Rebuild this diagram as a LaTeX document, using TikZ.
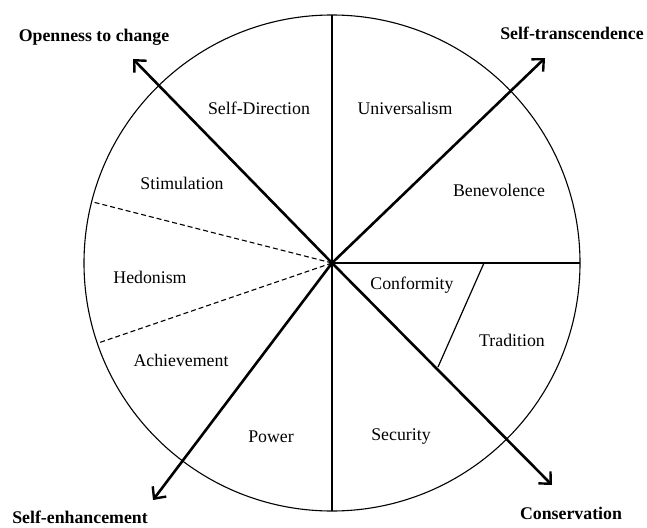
\documentclass[tikz,border=0pt]{standalone}
\usepackage{fontspec}
\setmainfont{Liberation Serif}
\usetikzlibrary{arrows.meta}
\begin{document}
\begin{tikzpicture}[x=1pt,y=-1pt,
  rim/.style={line width=1.1pt},
  divider/.style={line width=1.2pt},
  softdiv/.style={line width=1.1pt, dash pattern=on 5pt off 3pt},
  axis/.style={line width=2.6pt, -{Straight Barb[length=9pt,width=17pt,line width=2.4pt]}},
  value/.style={font=\fontsize{17.8}{20}\selectfont, inner sep=0pt},
  pole/.style={font=\bfseries\fontsize{17.8}{20}\selectfont, inner sep=0pt}]
\useasboundingbox (0,0) rectangle (647,527);

% centre of the circumplex and points on its rim
\coordinate (c) at (332,263);
\coordinate (top) at (332,15);
\coordinate (bottom) at (332,511);
\coordinate (right) at (580,263);
\coordinate (stimEnd) at (91.7,201.7);
\coordinate (hedEnd) at (97.4,343.3);
\coordinate (tradTop) at (484,263);
\coordinate (tradBot) at (438,367);

% arrow tips of the four higher-order dimensions
\coordinate (nw) at (133,59);
\coordinate (ne) at (545,58);
\coordinate (sw) at (153,500);
\coordinate (se) at (552,485);

\draw[rim] (c) circle[radius=248pt];

% sector boundaries
\draw[divider] (top) -- (bottom);
\draw[divider] (c) -- (right);
\draw[divider] (tradTop) -- (tradBot);
\draw[softdiv] (c) -- (stimEnd);
\draw[softdiv] (c) -- (hedEnd);

% dimension axes
\draw[axis] (c) -- (nw);
\draw[axis] (c) -- (ne);
\draw[axis] (c) -- (sw);
\draw[axis] (c) -- (se);

% value types
\node[value] (selfdir) at (259,108) {Self-Direction};
\node[value] (univ) at (405,108) {Universalism};
\node[value] (stim) at (182,183) {Stimulation};
\node[value] (benev) at (499,190) {Benevolence};
\node[value] (hedon) at (150,277) {Hedonism};
\node[value] (conf) at (412,285) {Conformity};
\node[value] (trad) at (512,340) {Tradition};
\node[value] (achiev) at (181,360) {Achievement};
\node[value] (power) at (271,437) {Power};
\node[value] (secur) at (401,437) {Security};

% higher-order dimensions
\node[pole] (open) at (94,37) {Openness to change};
\node[pole] (trans) at (572,33) {Self-transcendence};
\node[pole] (enh) at (80,517) {Self-enhancement};
\node[pole] (cons) at (571,513) {Conservation};
\end{tikzpicture}
\end{document}
